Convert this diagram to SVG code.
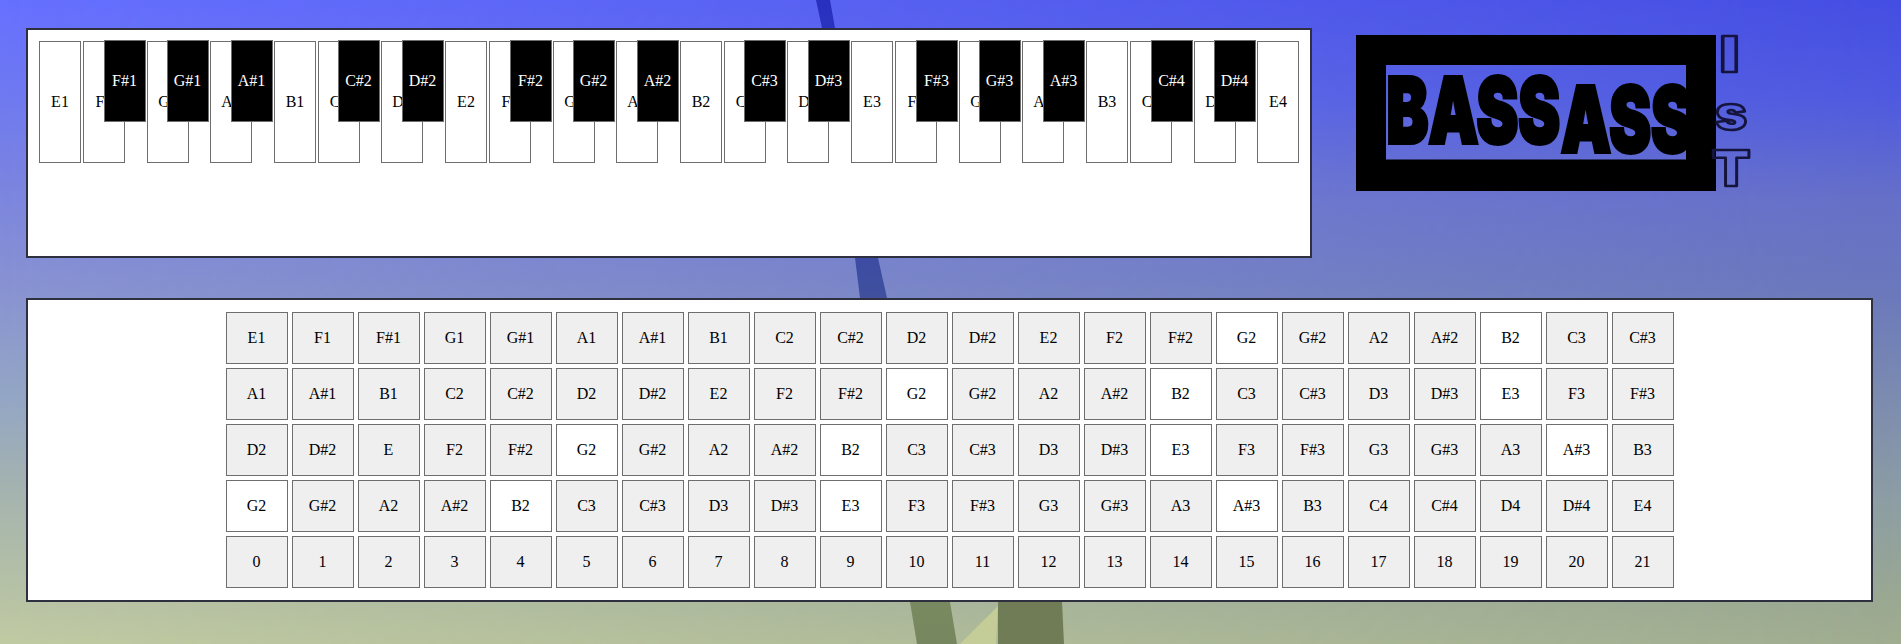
<svg xmlns="http://www.w3.org/2000/svg" width="1901" height="644" viewBox="0 0 1901 644">
<style>
text{font-family:"Liberation Serif","Times New Roman",serif;font-size:16px;text-anchor:middle;fill:#000}
.panel{fill:#fff;stroke:#2e3040;stroke-width:2}
.w{fill:#fff;stroke:#6e6e6e;stroke-width:1;width:41px;height:121px}
.b{fill:#000;stroke:#6e6e6e;stroke-width:1;width:41px;height:81px}
.b+text{fill:#fff}
.c{fill:#efefef;stroke:#6e6e6e;stroke-width:1;width:61px;height:51px}
.on{fill:#fff}
text.logo{font-family:Inter,"Liberation Sans",sans-serif;font-weight:900;text-anchor:start;font-size:91px;stroke:#000;stroke-width:4;stroke-linejoin:miter}
text.out{font-family:Inter,"Liberation Sans",sans-serif;font-weight:900;fill:none;stroke:#14143c;stroke-width:2.6;stroke-linejoin:round;font-size:49px}
</style>
<defs>
<linearGradient id="gl" x1="0" y1="0" x2="0" y2="1">
<stop offset="0" stop-color="#6670ff"/><stop offset=".15" stop-color="#6f79f0"/><stop offset=".28" stop-color="#7a84e0"/><stop offset=".44" stop-color="#8892d2"/><stop offset=".62" stop-color="#94a6c4"/><stop offset=".75" stop-color="#a3b2b0"/><stop offset=".9" stop-color="#b4c0a6"/><stop offset="1" stop-color="#c0caa2"/>
</linearGradient>
<linearGradient id="gr" x1="0" y1="0" x2="0" y2="1">
<stop offset="0" stop-color="#454ee2"/><stop offset=".15" stop-color="#4f5ae0"/><stop offset=".31" stop-color="#6670c8"/><stop offset=".45" stop-color="#6a78bc"/><stop offset=".62" stop-color="#7c8caf"/><stop offset=".78" stop-color="#8d9ea4"/><stop offset=".93" stop-color="#9aa892"/><stop offset="1" stop-color="#a0ad90"/>
</linearGradient>
<linearGradient id="gh" x1="0" y1="0" x2="1" y2="0">
<stop offset="0" stop-color="#fff"/><stop offset="1" stop-color="#000"/>
</linearGradient>
<linearGradient id="gt" gradientUnits="userSpaceOnUse" x1="0" y1="0" x2="0" y2="644">
<stop offset="0" stop-color="#2830c0"/><stop offset=".45" stop-color="#3f4f9f"/><stop offset=".93" stop-color="#7a8a60"/><stop offset="1" stop-color="#76865e"/>
</linearGradient>
<mask id="mh"><rect width="1901" height="644" fill="url(#gh)"/></mask>
</defs>
<g id="background">
<rect width="1901" height="644" fill="url(#gr)"/>
<rect width="1901" height="644" fill="url(#gl)" mask="url(#mh)"/>
<polygon points="816,0 830,0 835,28 878,258 887,298 950,602 957,644 917,644 910,602 860,298 855,258 822,28" fill="url(#gt)"/>
<polygon points="998,602 1062,602 1064,644 998,644" fill="#6f7c55"/>
<polygon points="998,606 996,644 960,644" fill="#c4cc98"/>
</g>
<g id="fretboard-panel"><rect class="panel" x="27" y="29" width="1284" height="228"/></g>
<g id="white-keys">
<g id="k-E1"><rect class="w" x="39.5" y="41.5"/><text x="60" y="107">E1</text></g>
<g id="k-F1"><rect class="w" x="83.5" y="41.5"/><text x="104" y="107">F1</text></g>
<g id="k-G1"><rect class="w" x="147.5" y="41.5"/><text x="168" y="107">G1</text></g>
<g id="k-A1"><rect class="w" x="210.5" y="41.5"/><text x="231" y="107">A1</text></g>
<g id="k-B1"><rect class="w" x="274.5" y="41.5"/><text x="295" y="107">B1</text></g>
<g id="k-C2"><rect class="w" x="318.5" y="41.5"/><text x="339" y="107">C2</text></g>
<g id="k-D2"><rect class="w" x="381.5" y="41.5"/><text x="402" y="107">D2</text></g>
<g id="k-E2"><rect class="w" x="445.5" y="41.5"/><text x="466" y="107">E2</text></g>
<g id="k-F2"><rect class="w" x="489.5" y="41.5"/><text x="510" y="107">F2</text></g>
<g id="k-G2"><rect class="w" x="553.5" y="41.5"/><text x="574" y="107">G2</text></g>
<g id="k-A2"><rect class="w" x="616.5" y="41.5"/><text x="637" y="107">A2</text></g>
<g id="k-B2"><rect class="w" x="680.5" y="41.5"/><text x="701" y="107">B2</text></g>
<g id="k-C3"><rect class="w" x="724.5" y="41.5"/><text x="745" y="107">C3</text></g>
<g id="k-D3"><rect class="w" x="787.5" y="41.5"/><text x="808" y="107">D3</text></g>
<g id="k-E3"><rect class="w" x="851.5" y="41.5"/><text x="872" y="107">E3</text></g>
<g id="k-F3"><rect class="w" x="895.5" y="41.5"/><text x="916" y="107">F3</text></g>
<g id="k-G3"><rect class="w" x="959.5" y="41.5"/><text x="980" y="107">G3</text></g>
<g id="k-A3"><rect class="w" x="1022.5" y="41.5"/><text x="1043" y="107">A3</text></g>
<g id="k-B3"><rect class="w" x="1086.5" y="41.5"/><text x="1107" y="107">B3</text></g>
<g id="k-C4"><rect class="w" x="1130.5" y="41.5"/><text x="1151" y="107">C4</text></g>
<g id="k-D4"><rect class="w" x="1194.5" y="41.5"/><text x="1215" y="107">D4</text></g>
<g id="k-E4"><rect class="w" x="1257.5" y="41.5"/><text x="1278" y="107">E4</text></g>
</g>
<g id="black-keys">
<g id="k-Fs1"><rect class="b" x="104.5" y="40.5"/><text x="124.5" y="86">F#1</text></g>
<g id="k-Gs1"><rect class="b" x="167.5" y="40.5"/><text x="187.5" y="86">G#1</text></g>
<g id="k-As1"><rect class="b" x="231.5" y="40.5"/><text x="251.5" y="86">A#1</text></g>
<g id="k-Cs2"><rect class="b" x="338.5" y="40.5"/><text x="358.5" y="86">C#2</text></g>
<g id="k-Ds2"><rect class="b" x="402.5" y="40.5"/><text x="422.5" y="86">D#2</text></g>
<g id="k-Fs2"><rect class="b" x="510.5" y="40.5"/><text x="530.5" y="86">F#2</text></g>
<g id="k-Gs2"><rect class="b" x="573.5" y="40.5"/><text x="593.5" y="86">G#2</text></g>
<g id="k-As2"><rect class="b" x="637.5" y="40.5"/><text x="657.5" y="86">A#2</text></g>
<g id="k-Cs3"><rect class="b" x="744.5" y="40.5"/><text x="764.5" y="86">C#3</text></g>
<g id="k-Ds3"><rect class="b" x="808.5" y="40.5"/><text x="828.5" y="86">D#3</text></g>
<g id="k-Fs3"><rect class="b" x="916.5" y="40.5"/><text x="936.5" y="86">F#3</text></g>
<g id="k-Gs3"><rect class="b" x="979.5" y="40.5"/><text x="999.5" y="86">G#3</text></g>
<g id="k-As3"><rect class="b" x="1043.5" y="40.5"/><text x="1063.5" y="86">A#3</text></g>
<g id="k-Cs4"><rect class="b" x="1151.5" y="40.5"/><text x="1171.5" y="86">C#4</text></g>
<g id="k-Ds4"><rect class="b" x="1214.5" y="40.5"/><text x="1234.5" y="86">D#4</text></g>
</g>
<g id="logo">
<path d="M1356 35H1716V191H1356ZM1386 65V159.5H1686V65Z" fill-rule="evenodd" fill="#000"/>
<text class="logo" transform="translate(1386.5,0) scale(.69,1)"><tspan x="0" y="143">BASS</tspan><tspan x="253" y="152">ASS</tspan></text>
<text class="out" transform="translate(1729.5,71.5) scale(1.4,1)">I</text>
<text class="out" transform="translate(1731,129.5) scale(1.15,1)" style="font-size:47px">s</text>
<text class="out" transform="translate(1731,186) scale(1.15,1)">T</text>
</g>
<g id="grid-panel"><rect class="panel" x="27" y="299" width="1845" height="302"/></g>
<g id="grid">
<g id="r0c0"><rect class="c" x="226.5" y="312.5"/><text x="256.5" y="343">E1</text></g>
<g id="r0c1"><rect class="c" x="292.5" y="312.5"/><text x="322.5" y="343">F1</text></g>
<g id="r0c2"><rect class="c" x="358.5" y="312.5"/><text x="388.5" y="343">F#1</text></g>
<g id="r0c3"><rect class="c" x="424.5" y="312.5"/><text x="454.5" y="343">G1</text></g>
<g id="r0c4"><rect class="c" x="490.5" y="312.5"/><text x="520.5" y="343">G#1</text></g>
<g id="r0c5"><rect class="c" x="556.5" y="312.5"/><text x="586.5" y="343">A1</text></g>
<g id="r0c6"><rect class="c" x="622.5" y="312.5"/><text x="652.5" y="343">A#1</text></g>
<g id="r0c7"><rect class="c" x="688.5" y="312.5"/><text x="718.5" y="343">B1</text></g>
<g id="r0c8"><rect class="c" x="754.5" y="312.5"/><text x="784.5" y="343">C2</text></g>
<g id="r0c9"><rect class="c" x="820.5" y="312.5"/><text x="850.5" y="343">C#2</text></g>
<g id="r0c10"><rect class="c" x="886.5" y="312.5"/><text x="916.5" y="343">D2</text></g>
<g id="r0c11"><rect class="c" x="952.5" y="312.5"/><text x="982.5" y="343">D#2</text></g>
<g id="r0c12"><rect class="c" x="1018.5" y="312.5"/><text x="1048.5" y="343">E2</text></g>
<g id="r0c13"><rect class="c" x="1084.5" y="312.5"/><text x="1114.5" y="343">F2</text></g>
<g id="r0c14"><rect class="c" x="1150.5" y="312.5"/><text x="1180.5" y="343">F#2</text></g>
<g id="r0c15"><rect class="c on" x="1216.5" y="312.5"/><text x="1246.5" y="343">G2</text></g>
<g id="r0c16"><rect class="c" x="1282.5" y="312.5"/><text x="1312.5" y="343">G#2</text></g>
<g id="r0c17"><rect class="c" x="1348.5" y="312.5"/><text x="1378.5" y="343">A2</text></g>
<g id="r0c18"><rect class="c" x="1414.5" y="312.5"/><text x="1444.5" y="343">A#2</text></g>
<g id="r0c19"><rect class="c on" x="1480.5" y="312.5"/><text x="1510.5" y="343">B2</text></g>
<g id="r0c20"><rect class="c" x="1546.5" y="312.5"/><text x="1576.5" y="343">C3</text></g>
<g id="r0c21"><rect class="c" x="1612.5" y="312.5"/><text x="1642.5" y="343">C#3</text></g>
<g id="r1c0"><rect class="c" x="226.5" y="368.5"/><text x="256.5" y="399">A1</text></g>
<g id="r1c1"><rect class="c" x="292.5" y="368.5"/><text x="322.5" y="399">A#1</text></g>
<g id="r1c2"><rect class="c" x="358.5" y="368.5"/><text x="388.5" y="399">B1</text></g>
<g id="r1c3"><rect class="c" x="424.5" y="368.5"/><text x="454.5" y="399">C2</text></g>
<g id="r1c4"><rect class="c" x="490.5" y="368.5"/><text x="520.5" y="399">C#2</text></g>
<g id="r1c5"><rect class="c" x="556.5" y="368.5"/><text x="586.5" y="399">D2</text></g>
<g id="r1c6"><rect class="c" x="622.5" y="368.5"/><text x="652.5" y="399">D#2</text></g>
<g id="r1c7"><rect class="c" x="688.5" y="368.5"/><text x="718.5" y="399">E2</text></g>
<g id="r1c8"><rect class="c" x="754.5" y="368.5"/><text x="784.5" y="399">F2</text></g>
<g id="r1c9"><rect class="c" x="820.5" y="368.5"/><text x="850.5" y="399">F#2</text></g>
<g id="r1c10"><rect class="c on" x="886.5" y="368.5"/><text x="916.5" y="399">G2</text></g>
<g id="r1c11"><rect class="c" x="952.5" y="368.5"/><text x="982.5" y="399">G#2</text></g>
<g id="r1c12"><rect class="c" x="1018.5" y="368.5"/><text x="1048.5" y="399">A2</text></g>
<g id="r1c13"><rect class="c" x="1084.5" y="368.5"/><text x="1114.5" y="399">A#2</text></g>
<g id="r1c14"><rect class="c on" x="1150.5" y="368.5"/><text x="1180.5" y="399">B2</text></g>
<g id="r1c15"><rect class="c" x="1216.5" y="368.5"/><text x="1246.5" y="399">C3</text></g>
<g id="r1c16"><rect class="c" x="1282.5" y="368.5"/><text x="1312.5" y="399">C#3</text></g>
<g id="r1c17"><rect class="c" x="1348.5" y="368.5"/><text x="1378.5" y="399">D3</text></g>
<g id="r1c18"><rect class="c" x="1414.5" y="368.5"/><text x="1444.5" y="399">D#3</text></g>
<g id="r1c19"><rect class="c on" x="1480.5" y="368.5"/><text x="1510.5" y="399">E3</text></g>
<g id="r1c20"><rect class="c" x="1546.5" y="368.5"/><text x="1576.5" y="399">F3</text></g>
<g id="r1c21"><rect class="c" x="1612.5" y="368.5"/><text x="1642.5" y="399">F#3</text></g>
<g id="r2c0"><rect class="c" x="226.5" y="424.5"/><text x="256.5" y="455">D2</text></g>
<g id="r2c1"><rect class="c" x="292.5" y="424.5"/><text x="322.5" y="455">D#2</text></g>
<g id="r2c2"><rect class="c" x="358.5" y="424.5"/><text x="388.5" y="455">E</text></g>
<g id="r2c3"><rect class="c" x="424.5" y="424.5"/><text x="454.5" y="455">F2</text></g>
<g id="r2c4"><rect class="c" x="490.5" y="424.5"/><text x="520.5" y="455">F#2</text></g>
<g id="r2c5"><rect class="c on" x="556.5" y="424.5"/><text x="586.5" y="455">G2</text></g>
<g id="r2c6"><rect class="c" x="622.5" y="424.5"/><text x="652.5" y="455">G#2</text></g>
<g id="r2c7"><rect class="c" x="688.5" y="424.5"/><text x="718.5" y="455">A2</text></g>
<g id="r2c8"><rect class="c" x="754.5" y="424.5"/><text x="784.5" y="455">A#2</text></g>
<g id="r2c9"><rect class="c on" x="820.5" y="424.5"/><text x="850.5" y="455">B2</text></g>
<g id="r2c10"><rect class="c" x="886.5" y="424.5"/><text x="916.5" y="455">C3</text></g>
<g id="r2c11"><rect class="c" x="952.5" y="424.5"/><text x="982.5" y="455">C#3</text></g>
<g id="r2c12"><rect class="c" x="1018.5" y="424.5"/><text x="1048.5" y="455">D3</text></g>
<g id="r2c13"><rect class="c" x="1084.5" y="424.5"/><text x="1114.5" y="455">D#3</text></g>
<g id="r2c14"><rect class="c on" x="1150.5" y="424.5"/><text x="1180.5" y="455">E3</text></g>
<g id="r2c15"><rect class="c" x="1216.5" y="424.5"/><text x="1246.5" y="455">F3</text></g>
<g id="r2c16"><rect class="c" x="1282.5" y="424.5"/><text x="1312.5" y="455">F#3</text></g>
<g id="r2c17"><rect class="c" x="1348.5" y="424.5"/><text x="1378.5" y="455">G3</text></g>
<g id="r2c18"><rect class="c" x="1414.5" y="424.5"/><text x="1444.5" y="455">G#3</text></g>
<g id="r2c19"><rect class="c" x="1480.5" y="424.5"/><text x="1510.5" y="455">A3</text></g>
<g id="r2c20"><rect class="c on" x="1546.5" y="424.5"/><text x="1576.5" y="455">A#3</text></g>
<g id="r2c21"><rect class="c" x="1612.5" y="424.5"/><text x="1642.5" y="455">B3</text></g>
<g id="r3c0"><rect class="c on" x="226.5" y="480.5"/><text x="256.5" y="511">G2</text></g>
<g id="r3c1"><rect class="c" x="292.5" y="480.5"/><text x="322.5" y="511">G#2</text></g>
<g id="r3c2"><rect class="c" x="358.5" y="480.5"/><text x="388.5" y="511">A2</text></g>
<g id="r3c3"><rect class="c" x="424.5" y="480.5"/><text x="454.5" y="511">A#2</text></g>
<g id="r3c4"><rect class="c on" x="490.5" y="480.5"/><text x="520.5" y="511">B2</text></g>
<g id="r3c5"><rect class="c" x="556.5" y="480.5"/><text x="586.5" y="511">C3</text></g>
<g id="r3c6"><rect class="c" x="622.5" y="480.5"/><text x="652.5" y="511">C#3</text></g>
<g id="r3c7"><rect class="c" x="688.5" y="480.5"/><text x="718.5" y="511">D3</text></g>
<g id="r3c8"><rect class="c" x="754.5" y="480.5"/><text x="784.5" y="511">D#3</text></g>
<g id="r3c9"><rect class="c on" x="820.5" y="480.5"/><text x="850.5" y="511">E3</text></g>
<g id="r3c10"><rect class="c" x="886.5" y="480.5"/><text x="916.5" y="511">F3</text></g>
<g id="r3c11"><rect class="c" x="952.5" y="480.5"/><text x="982.5" y="511">F#3</text></g>
<g id="r3c12"><rect class="c" x="1018.5" y="480.5"/><text x="1048.5" y="511">G3</text></g>
<g id="r3c13"><rect class="c" x="1084.5" y="480.5"/><text x="1114.5" y="511">G#3</text></g>
<g id="r3c14"><rect class="c" x="1150.5" y="480.5"/><text x="1180.5" y="511">A3</text></g>
<g id="r3c15"><rect class="c on" x="1216.5" y="480.5"/><text x="1246.5" y="511">A#3</text></g>
<g id="r3c16"><rect class="c" x="1282.5" y="480.5"/><text x="1312.5" y="511">B3</text></g>
<g id="r3c17"><rect class="c" x="1348.5" y="480.5"/><text x="1378.5" y="511">C4</text></g>
<g id="r3c18"><rect class="c" x="1414.5" y="480.5"/><text x="1444.5" y="511">C#4</text></g>
<g id="r3c19"><rect class="c" x="1480.5" y="480.5"/><text x="1510.5" y="511">D4</text></g>
<g id="r3c20"><rect class="c" x="1546.5" y="480.5"/><text x="1576.5" y="511">D#4</text></g>
<g id="r3c21"><rect class="c" x="1612.5" y="480.5"/><text x="1642.5" y="511">E4</text></g>
<g id="r4c0"><rect class="c" x="226.5" y="536.5"/><text x="256.5" y="567">0</text></g>
<g id="r4c1"><rect class="c" x="292.5" y="536.5"/><text x="322.5" y="567">1</text></g>
<g id="r4c2"><rect class="c" x="358.5" y="536.5"/><text x="388.5" y="567">2</text></g>
<g id="r4c3"><rect class="c" x="424.5" y="536.5"/><text x="454.5" y="567">3</text></g>
<g id="r4c4"><rect class="c" x="490.5" y="536.5"/><text x="520.5" y="567">4</text></g>
<g id="r4c5"><rect class="c" x="556.5" y="536.5"/><text x="586.5" y="567">5</text></g>
<g id="r4c6"><rect class="c" x="622.5" y="536.5"/><text x="652.5" y="567">6</text></g>
<g id="r4c7"><rect class="c" x="688.5" y="536.5"/><text x="718.5" y="567">7</text></g>
<g id="r4c8"><rect class="c" x="754.5" y="536.5"/><text x="784.5" y="567">8</text></g>
<g id="r4c9"><rect class="c" x="820.5" y="536.5"/><text x="850.5" y="567">9</text></g>
<g id="r4c10"><rect class="c" x="886.5" y="536.5"/><text x="916.5" y="567">10</text></g>
<g id="r4c11"><rect class="c" x="952.5" y="536.5"/><text x="982.5" y="567">11</text></g>
<g id="r4c12"><rect class="c" x="1018.5" y="536.5"/><text x="1048.5" y="567">12</text></g>
<g id="r4c13"><rect class="c" x="1084.5" y="536.5"/><text x="1114.5" y="567">13</text></g>
<g id="r4c14"><rect class="c" x="1150.5" y="536.5"/><text x="1180.5" y="567">14</text></g>
<g id="r4c15"><rect class="c" x="1216.5" y="536.5"/><text x="1246.5" y="567">15</text></g>
<g id="r4c16"><rect class="c" x="1282.5" y="536.5"/><text x="1312.5" y="567">16</text></g>
<g id="r4c17"><rect class="c" x="1348.5" y="536.5"/><text x="1378.5" y="567">17</text></g>
<g id="r4c18"><rect class="c" x="1414.5" y="536.5"/><text x="1444.5" y="567">18</text></g>
<g id="r4c19"><rect class="c" x="1480.5" y="536.5"/><text x="1510.5" y="567">19</text></g>
<g id="r4c20"><rect class="c" x="1546.5" y="536.5"/><text x="1576.5" y="567">20</text></g>
<g id="r4c21"><rect class="c" x="1612.5" y="536.5"/><text x="1642.5" y="567">21</text></g>
</g>
</svg>
